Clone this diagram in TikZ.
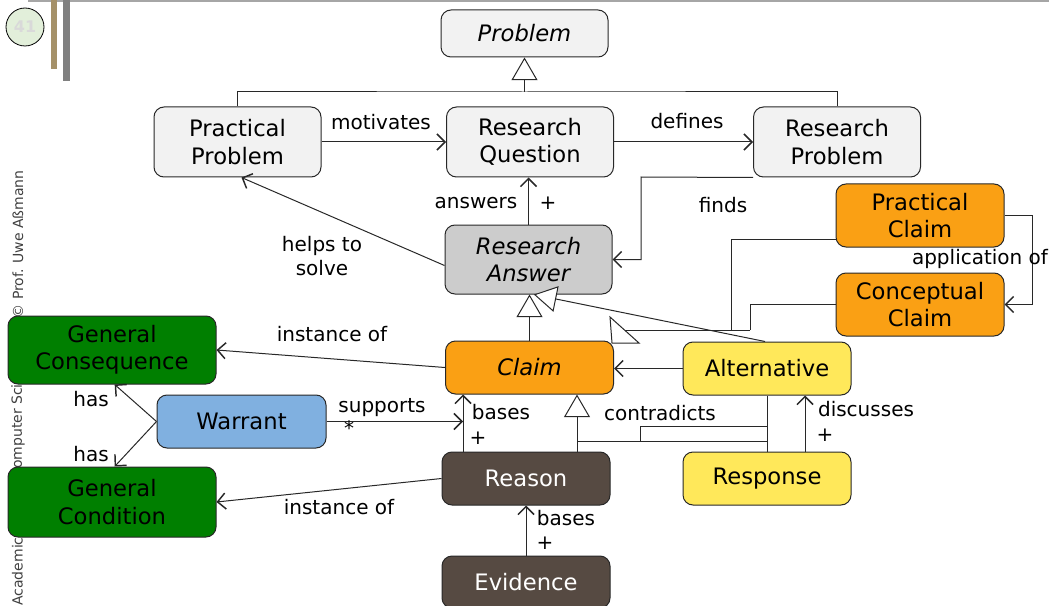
\documentclass[tikz,border=0pt]{standalone}
\usepackage{fontspec}
\setmainfont{DejaVu Sans}
\usetikzlibrary{arrows.meta}
\definecolor{lgray}{RGB}{242,242,242}
\definecolor{mgray}{RGB}{204,204,204}
\definecolor{orng}{RGB}{250,160,20}
\definecolor{grn}{RGB}{0,127,0}
\definecolor{blu}{RGB}{128,176,224}
\definecolor{yel}{RGB}{255,232,90}
\definecolor{brn}{RGB}{86,74,66}
\definecolor{tanbar}{RGB}{165,145,105}
\definecolor{pgcirc}{RGB}{226,239,218}
\definecolor{ln}{RGB}{40,40,40}
\tikzset{
  box/.style={draw=ln, line width=0.75pt, rounded corners=7.5pt, align=center,
    font=\fontsize{17}{20.5}\selectfont, inner sep=0pt},
  lab/.style={font=\fontsize{15}{18}\selectfont, align=center, inner sep=0pt},
  arr/.style={draw=ln, line width=0.75pt, -{Straight Barb[length=6pt,width=12pt,line width=1.1pt]}},
  gen/.style={draw=ln, line width=0.75pt, -{Triangle[length=17pt,width=19.5pt,fill=white]}},
  plain/.style={draw=ln, line width=0.75pt},
  side/.style={rotate=90, font=\fontsize{10.5}{12}\selectfont, text=black!75, inner sep=0pt}
}
\begin{document}
\begin{tikzpicture}[x=0.75pt,y=-0.75pt]
\useasboundingbox (0,0) rectangle (1049,606);
% decorations
\fill[gray!70] (28,0) rectangle (1049,2);
\fill[tanbar] (51,0) rectangle (57,69);
\fill[gray] (63,0) rectangle (70,81);
\node[circle, draw=black, line width=0.6pt, fill=pgcirc, minimum size=28.5pt, inner sep=0pt,
  font=\bfseries\fontsize{12}{12}\selectfont, text=black!15] (pg) at (25,27) {41};
% side text
\node[side, anchor=west] (s1) at (18,606) {Academic Skills,};
\node[side, anchor=west] (s2) at (18,479) {Computer Science,};
\node[side, anchor=east] (s3) at (18,170) {© Prof. Uwe Aßmann};
% nodes
\node[box, fill=lgray, minimum width=125.25pt, minimum height=35.25pt] (prob) at (524.5,33.5) {\itshape Problem};
\node[box, fill=lgray, minimum width=125.25pt, minimum height=52.5pt] (pp) at (237.5,142) {Practical\\Problem};
\node[box, fill=lgray, minimum width=125.25pt, minimum height=52.5pt] (rq) at (530,142) {Research\\Question};
\node[box, fill=lgray, minimum width=125.25pt, minimum height=52.5pt] (rpb) at (837,142) {Research\\Problem};
\node[box, fill=mgray, minimum width=125.25pt, minimum height=51.75pt] (ra) at (528.5,259.5) {\itshape Research\\\itshape Answer};
\node[box, fill=orng, minimum width=126pt, minimum height=47.25pt] (pc) at (920,215.5) {Practical\\Claim};
\node[box, fill=orng, minimum width=126pt, minimum height=47.25pt] (cc) at (920,304.5) {Conceptual\\Claim};
\node[box, fill=grn, minimum width=156pt, minimum height=51pt] (gcons) at (112,350) {General\\Consequence};
\node[box, fill=grn, minimum width=156pt, minimum height=52.5pt] (gcond) at (112,502) {General\\Condition};
\node[box, fill=orng, minimum width=126pt, minimum height=39.75pt] (cl) at (529.5,367.5) {\itshape Claim};
\node[box, fill=yel, minimum width=126pt, minimum height=39.75pt] (alt) at (767,368.5) {Alternative};
\node[box, fill=blu, minimum width=126.75pt, minimum height=39.75pt] (w) at (241.5,421.5) {Warrant};
\node[box, fill=brn, text=white, minimum width=126pt, minimum height=39.75pt] (rs) at (526,478.5) {Reason};
\node[box, fill=yel, minimum width=126pt, minimum height=39.75pt] (resp) at (767,478.5) {Response};
\node[box, fill=brn, text=white, minimum width=126pt, minimum height=39pt] (ev) at (526,582) {Evidence};
% coordinates
\coordinate (j) at (524.5,92);
\coordinate (f1) at (641,177);
\coordinate (g1) at (731,330);
\coordinate (g2) at (750,330);
\coordinate (g3) at (625,330);
\coordinate (ap) at (1032,260);
\coordinate (bx) at (463,452);
\coordinate (t) at (577,452);
\coordinate (h1) at (577,441);
\coordinate (h2) at (767,441);
\coordinate (k1) at (640,441);
\coordinate (k2) at (640,426);
\coordinate (k3) at (767,426);
\coordinate (d) at (805,452);
% generalizations
\draw[plain] (pp.north) |- (j) -| (rpb.north);
\draw[gen] (j) -- (prob.south);
\draw[gen] (cl.north) -- (cl.north |- ra.south);
\draw[gen] ([xshift=-1.5pt]alt.north) -- ([xshift=4pt]ra.south);
\draw[plain] (pc.west |- 0,239) -| (g1);
\draw[plain] (cc.west) -| (g2);
\draw[plain] (g2) -- (g3);
\draw[plain, fill=white] (610,317) -- (612,343) -- (639,343) -- cycle;
\draw[gen] (t) -- (t |- cl.south);
\draw[plain] (h1) -- (h2);
\draw[plain] (k1) -- (k2) -- (k3);
\draw[plain] (alt.south) -- (resp.north);
% associations
\draw[arr] (pp.east) -- (rq.west);
\draw[arr] (rq.east) -- (rpb.west);
\draw[arr] (ra.north) -- (ra.north |- rq.south);
\draw[arr] (rpb.south west) -- (f1) |- (ra.east);
\draw[arr] ([yshift=-4.5pt]ra.west) -- ([xshift=3pt]pp.south);
\draw[arr] (pc.east) -| (ap) |- (cc.east);
\draw[arr] (alt.west) -- (alt.west -| cl.east);
\draw[arr] (cl.west) -- (gcons.east);
\draw[arr] (rs.west) -- (gcond.east);
\draw[arr] (w.west) -- ([xshift=2pt]gcons.south);
\draw[arr] (w.west) -- ([xshift=2pt]gcond.north);
\draw[arr] (w.east) -- (w.east -| bx);
\draw[arr] (bx) -- (bx |- cl.south);
\draw[arr] (d) -- (d |- alt.south);
\draw[arr] (ev.north) -- (rs.south);
% labels
\node[lab] (l1) at (381,122) {motivates};
\node[lab] (l2) at (687,121) {defines};
\node[lab] (l3) at (476,203) {answers};
\node[lab] (l4) at (548,203) {+};
\node[lab] (l5) at (723,205) {finds};
\node[lab] (l6) at (322,256) {helps to\\solve};
\node[lab] (l7) at (980,259) {application of};
\node[lab] (l8) at (332,334) {instance of};
\node[lab] (l9) at (91,399) {has};
\node[lab] (l10) at (91,454) {has};
\node[lab] (l11) at (382,408) {supports};
\node[lab] (l12) at (349,428) {*};
\node[lab] (l13) at (501,412) {bases};
\node[lab] (l14) at (478,438) {+};
\node[lab] (l15) at (660,413) {contradicts};
\node[lab] (l16) at (866,409) {discusses};
\node[lab] (l17) at (825,435) {+};
\node[lab] (l18) at (339,507) {instance of};
\node[lab] (l19) at (566,518) {bases};
\node[lab] (l20) at (545,543) {+};
\end{tikzpicture}
\end{document}
